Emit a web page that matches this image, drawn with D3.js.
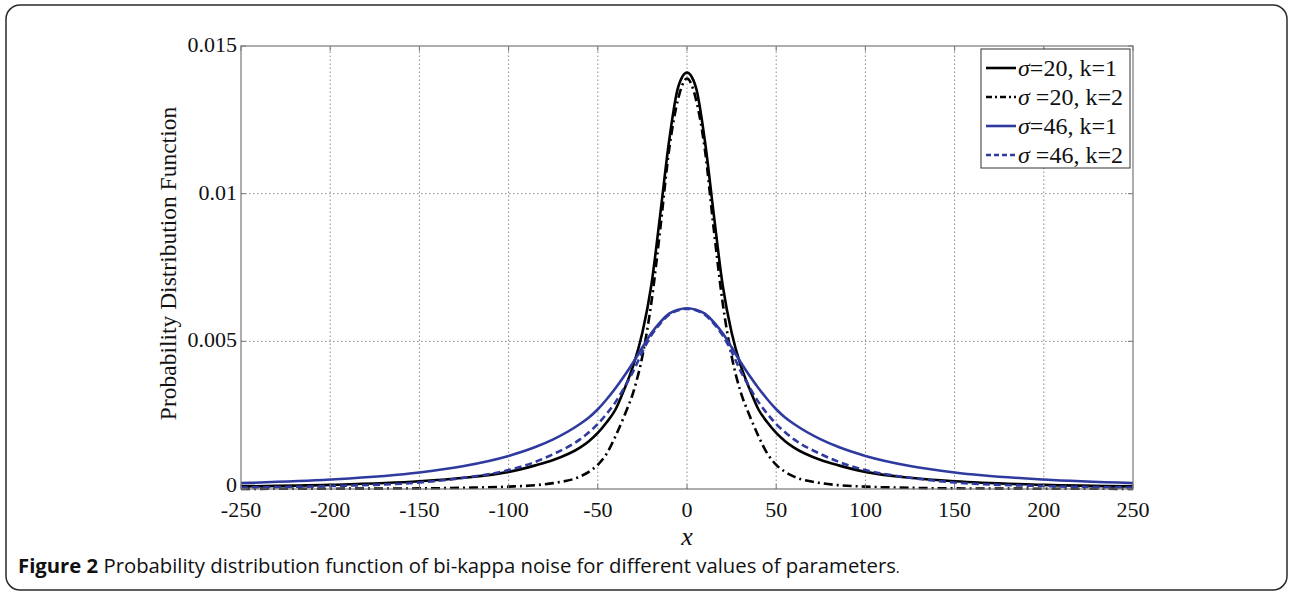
<!DOCTYPE html>
<html>
<head>
<meta charset="utf-8">
<script src="https://cdn.jsdelivr.net/npm/d3@7"></script>
<style>
  body { margin: 0; background: #fff; }
  svg { display: block; }
</style>
</head>
<body>
<div id="chart"></div>
<script>
// data
const xTicks = [-250, -200, -150, -100, -50, 0, 50, 100, 150, 200, 250];
const yTicks = [0, 0.005, 0.01, 0.015];
const yTickLabels = ["0", "0.005", "0.01", "0.015"];

const xs = [-250, -200, -150, -125, -100, -85, -75, -60, -55, -50, -45, -40, -35, -30, -25, -20, -15, -10, -5, 0,
            5, 10, 15, 20, 25, 30, 35, 40, 45, 50, 55, 60, 75, 85, 100, 125, 150, 200, 250];

// sigma=20, k=1
const pdfS20K1 = [0.00009, 0.00014, 0.00026, 0.00038, 0.00058, 0.00080, 0.00098, 0.00140, 0.00162, 0.00190, 0.00226, 0.0027, 0.0034, 0.0042, 0.0053, 0.0069, 0.0093, 0.0118, 0.0136, 0.0141,
                  0.0136, 0.0118, 0.0093, 0.0069, 0.0053, 0.0042, 0.0034, 0.0027, 0.00226, 0.00190, 0.00162, 0.00140, 0.00098, 0.00080, 0.00058, 0.00038, 0.00026, 0.00014, 0.00009];
// sigma=20, k=2
const pdfS20K2 = [0.000005, 0.00001, 0.00002, 0.00004, 0.00008, 0.00013, 0.00020, 0.00042, 0.00058, 0.00082, 0.0012, 0.0018, 0.0025, 0.0033, 0.0045, 0.0063, 0.0088, 0.0115, 0.0132, 0.0139,
                  0.0132, 0.0115, 0.0088, 0.0063, 0.0045, 0.0033, 0.0025, 0.0018, 0.0012, 0.00082, 0.00058, 0.00042, 0.00020, 0.00013, 0.00008, 0.00004, 0.00002, 0.00001, 0.000005];
// sigma=46, k=1
const pdfS46K1 = [0.00020, 0.00032, 0.00056, 0.00078, 0.00112, 0.00142, 0.00168, 0.00220, 0.00242, 0.00270, 0.00304, 0.00342, 0.00384, 0.00430, 0.00480, 0.00527, 0.00565, 0.00594, 0.00607, 0.00612,
                  0.00607, 0.00594, 0.00565, 0.00527, 0.00480, 0.00430, 0.00384, 0.00342, 0.00304, 0.00270, 0.00242, 0.00220, 0.00168, 0.00142, 0.00112, 0.00078, 0.00056, 0.00032, 0.00020];
// sigma=46, k=2
const pdfS46K2 = [0.00005, 0.00010, 0.00022, 0.00038, 0.00064, 0.00092, 0.00118, 0.00168, 0.00192, 0.00220, 0.00255, 0.00295, 0.00345, 0.00400, 0.00465, 0.00520, 0.00560, 0.00590, 0.00605, 0.00610,
                  0.00605, 0.00590, 0.00560, 0.00520, 0.00465, 0.00400, 0.00345, 0.00295, 0.00255, 0.00220, 0.00192, 0.00168, 0.00118, 0.00092, 0.00064, 0.00038, 0.00022, 0.00010, 0.00005];

const seriesNames = ["=20, k=1", " =20, k=2", "=46, k=1", " =46, k=2"];
const seriesValues = [pdfS20K1, pdfS20K2, pdfS46K1, pdfS46K2];
const seriesColors = ["#000000", "#000000", "#2f3a9f", "#2f3a9f"];
const seriesDash = [null, "9,4,2,4", null, "7,4"];

const width = 1290, height = 594;
const margin = {left: 241, right: 1290 - 1133, top: 46, bottom: 594 - 489};

const svg = d3.select("#chart").append("svg")
    .attr("width", width)
    .attr("height", height);

svg.append("rect").attr("width", width).attr("height", height).attr("fill", "#fff");

// outer rounded frame
svg.append("rect")
    .attr("x", 6).attr("y", 5)
    .attr("width", 1281).attr("height", 585)
    .attr("rx", 14)
    .attr("fill", "none")
    .attr("stroke", "#2a2a2a")
    .attr("stroke-width", 1.5);

const x = d3.scaleLinear().domain([-250, 250]).range([margin.left, width - margin.right]);
const y = d3.scaleLinear().domain([0, 0.015]).range([height - margin.bottom, margin.top]);

const serif = "'Liberation Serif', 'Times New Roman', serif";

// grid
const grid = svg.append("g");
grid.selectAll(".gx").data(xTicks.slice(1, -1)).enter().append("line")
    .attr("x1", d => x(d)).attr("x2", d => x(d))
    .attr("y1", y(0)).attr("y2", y(0.015))
    .attr("stroke", "#888").attr("stroke-width", 1).attr("stroke-dasharray", "1.5,2.5");
grid.selectAll(".gy").data(yTicks.slice(1, -1)).enter().append("line")
    .attr("x1", x(-250)).attr("x2", x(250))
    .attr("y1", d => y(d)).attr("y2", d => y(d))
    .attr("stroke", "#888").attr("stroke-width", 1).attr("stroke-dasharray", "1.5,2.5");

// curves
const line = d3.line()
    .x((d, i) => x(xs[i]))
    .y(d => y(d))
    .curve(d3.curveMonotoneX);

const plot = svg.append("g");
seriesValues.forEach((vals, i) => {
    plot.append("path")
        .datum(vals)
        .attr("d", line)
        .attr("fill", "none")
        .attr("stroke", seriesColors[i])
        .attr("stroke-width", 2.6)
        .attr("stroke-linejoin", "round")
        .attr("stroke-dasharray", seriesDash[i]);
});

// axes box and inward ticks
svg.append("rect")
    .attr("x", x(-250)).attr("y", y(0.015))
    .attr("width", x(250) - x(-250)).attr("height", y(0) - y(0.015))
    .attr("fill", "none").attr("stroke", "#777").attr("stroke-width", 1.2);

const tickLen = 5;
const ticks = svg.append("g").attr("stroke", "#777").attr("stroke-width", 1);
xTicks.forEach(t => {
    ticks.append("line").attr("x1", x(t)).attr("x2", x(t)).attr("y1", y(0)).attr("y2", y(0) - tickLen);
    ticks.append("line").attr("x1", x(t)).attr("x2", x(t)).attr("y1", y(0.015)).attr("y2", y(0.015) + tickLen);
});
yTicks.forEach(t => {
    ticks.append("line").attr("x1", x(-250)).attr("x2", x(-250) + tickLen).attr("y1", y(t)).attr("y2", y(t));
    ticks.append("line").attr("x1", x(250)).attr("x2", x(250) - tickLen).attr("y1", y(t)).attr("y2", y(t));
});

// tick labels
svg.append("g").selectAll("text").data(xTicks).enter().append("text")
    .attr("x", d => x(d))
    .attr("y", y(0) + 27.5)
    .attr("text-anchor", "middle")
    .attr("font-family", serif)
    .attr("font-size", 22)
    .attr("fill", "#111")
    .text(d => d);

svg.append("g").selectAll("text").data(yTicks).enter().append("text")
    .attr("x", x(-250) - 4)
    .attr("y", (d, i) => y(d) + (i === 0 ? 3 : 6))
    .attr("text-anchor", "end")
    .attr("font-family", serif)
    .attr("font-size", 22)
    .attr("fill", "#111")
    .text((d, i) => yTickLabels[i]);

// axis titles
svg.append("text")
    .attr("transform", `translate(176, ${(y(0) + y(0.015)) / 2 - 4}) rotate(-90)`)
    .attr("text-anchor", "middle")
    .attr("font-family", serif)
    .attr("font-size", 23.5)
    .attr("fill", "#111")
    .text("Probability Distribution Function");

svg.append("text")
    .attr("x", x(0))
    .attr("y", 545)
    .attr("text-anchor", "middle")
    .attr("font-family", serif)
    .attr("font-style", "italic")
    .attr("font-size", 26)
    .attr("fill", "#111")
    .text("x");

// legend
const legend = svg.append("g");
legend.append("rect")
    .attr("x", 981).attr("y", 49)
    .attr("width", 149).attr("height", 119)
    .attr("fill", "#fff").attr("stroke", "#333").attr("stroke-width", 1);

seriesNames.forEach((name, i) => {
    const ly = 68 + i * 29;
    legend.append("line")
        .attr("x1", 986).attr("x2", 1016)
        .attr("y1", ly).attr("y2", ly)
        .attr("stroke", seriesColors[i])
        .attr("stroke-width", 2.6)
        .attr("stroke-dasharray", seriesDash[i] ? (i === 1 ? "6,3,2,3" : "5,3") : null);
    const t = legend.append("text")
        .attr("x", 1018)
        .attr("y", ly + 8)
        .attr("font-family", serif)
        .attr("font-size", 24)
        .attr("fill", "#111");
    t.append("tspan").attr("font-style", "italic").text("σ");
    t.append("tspan").text(name);
});

// caption
const cap = svg.append("text")
    .attr("x", 18)
    .attr("y", 573)
    .attr("font-family", "'Open Sans', 'Noto Sans', sans-serif")
    .attr("font-size", 20.3)
    .attr("fill", "#111");
cap.append("tspan").attr("font-weight", "bold").text("Figure 2");
cap.append("tspan").attr("font-weight", "normal").text(" Probability distribution function of bi-kappa noise for different values of parameters");
cap.append("tspan").attr("font-weight", "normal").attr("font-size", 15).text(".");
</script>
</body>
</html>
